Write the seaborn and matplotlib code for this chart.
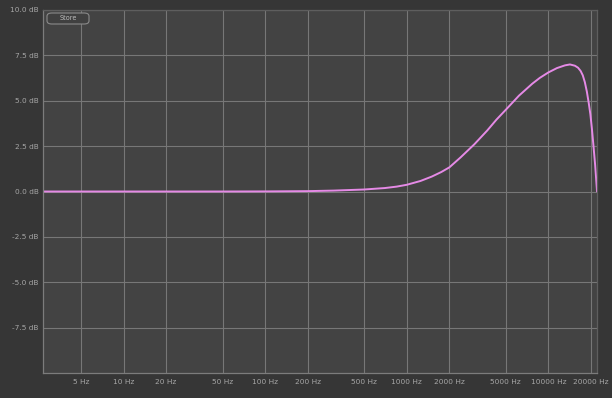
import pandas as pd
import seaborn as sns
import matplotlib.pyplot as plt
from matplotlib.patches import FancyBboxPatch

# Frequency response (Hz, dB)
freq_hz = [2.7, 5, 10, 20, 50, 100, 200, 305, 500, 700, 850, 1000, 1250, 1500, 1750,
           2000, 2400, 3000, 3700, 4300, 5000, 6200, 7700, 8700, 10000, 11500,
           13100, 14200, 15400, 16200, 16900, 17500, 18100, 18700, 19300, 19800,
           20300, 20800, 21400, 22000, 22050]
gain_db = [0.0, 0.0, 0.0, 0.0, 0.0, 0.005, 0.02, 0.05, 0.11, 0.19, 0.27, 0.37, 0.58,
           0.82, 1.07, 1.33, 1.88, 2.6, 3.36, 3.96, 4.5, 5.28, 5.94, 6.26, 6.56,
           6.8, 6.95, 7.0, 6.93, 6.82, 6.64, 6.4, 6.02, 5.5, 4.85, 4.25, 3.45, 2.55,
           1.45, 0.15, 0.0]

x_ticks = [5, 10, 20, 50, 100, 200, 500, 1000, 2000, 5000, 10000, 20000]
x_labels = [f'{t} Hz' for t in x_ticks]
y_ticks = [-7.5, -5.0, -2.5, 0.0, 2.5, 5.0, 7.5, 10.0]
y_labels = [f'{t:.1f} dB' for t in y_ticks]

df = pd.DataFrame({'freq': freq_hz, 'gain': gain_db})

sns.set_style('dark', {
    'figure.facecolor': '#363636',
    'axes.facecolor': '#434343',
    'axes.edgecolor': '#7c7c7c',
    'grid.color': '#777777',
})
plt.rcParams['font.family'] = ['DejaVu Sans']

fig = plt.figure(figsize=(6.12, 3.98), dpi=100)
ax = fig.add_axes([43 / 612, 25 / 398, 554 / 612, 363 / 398])

sns.lineplot(data=df, x='freq', y='gain', ax=ax, color='#e58ae6', linewidth=1.4)

ax.set_xscale('log')
ax.set_xlim(2.7, 22050)
ax.set_ylim(-10, 10)
ax.set_xticks(x_ticks)
ax.set_xticklabels(x_labels)
ax.minorticks_off()
ax.set_yticks(y_ticks)
ax.set_yticklabels(y_labels)
ax.set_xlabel('')
ax.set_ylabel('')

ax.grid(True, color='#777777', linewidth=0.8)
ax.tick_params(axis='both', length=0, labelsize=5.3, colors='#a6a6a6')
ax.tick_params(axis='x', pad=4)
ax.tick_params(axis='y', pad=3)
for side, sp in ax.spines.items():
    sp.set_visible(True)
    sp.set_linewidth(0.9)
    sp.set_color('#7c7c7c' if side in ('left', 'bottom') else '#5e5e5e')

# "Store" button
btn = FancyBboxPatch((47 / 612, 1 - 24 / 398), 42 / 612, 11 / 398,
                     boxstyle='round,pad=0,rounding_size=0.008',
                     transform=fig.transFigure, facecolor='#404040',
                     edgecolor='#8a8a8a', linewidth=0.8)
fig.patches.append(btn)
fig.text(68 / 612, 1 - 18.5 / 398, 'Store', fontsize=4.7, color='#bcbcbc',
         ha='center', va='center')

plt.savefig('out.png', dpi=100, facecolor=fig.get_facecolor())
